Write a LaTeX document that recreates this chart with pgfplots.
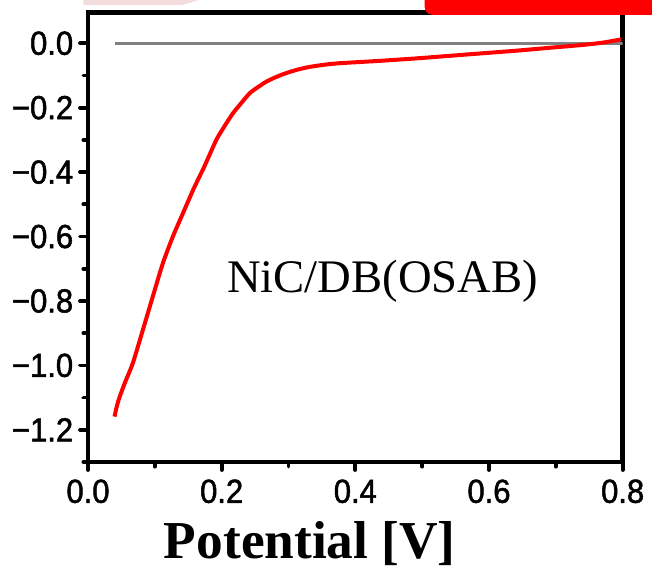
\documentclass[border=0pt]{standalone}
\usepackage{pgfplots}
\pgfplotsset{compat=1.18}
\usepackage{fontspec}
\setmainfont{Liberation Serif}
\newfontfamily\tickfont[FakeStretch=0.93, FakeBold=1.5]{Liberation Sans}
\definecolor{curvegray}{RGB}{128,128,128}
\definecolor{bandpink}{RGB}{242,220,220}

\begin{document}
\begin{tikzpicture}
\begin{axis}[
  name=ax,
  scale only axis,
  width=401pt, height=337pt,
  xmin=0, xmax=0.8,
  ymin=-1.3, ymax=0.095,
  line width=3.6pt,
  axis line style={line width=3.6pt, line cap=round},
  tick align=outside,
  xtick pos=bottom, ytick pos=left,
  major tick length=6pt,
  minor tick length=3.5pt,
  every tick/.style={black, line width=2.8pt, line cap=round},
  xtick={0,0.2,0.4,0.6,0.8},
  xticklabels={0.0,0.2,0.4,0.6,0.8},
  minor xtick={0.1,0.3,0.5,0.7},
  ytick={-1.2,-1.0,-0.8,-0.6,-0.4,-0.2,0},
  yticklabels={−1.2,−1.0,−0.8,−0.6,−0.4,−0.2,0.0},
  minor ytick={-1.3,-1.1,-0.9,-0.7,-0.5,-0.3,-0.1},
  ticklabel style={font=\tickfont\fontsize{25}{25}\selectfont},
  xticklabel style={yshift=-2pt},
  xlabel={Potential [V]},
  xlabel style={font=\bfseries\fontsize{40}{40}\selectfont,
    at={(axis description cs:0.415,0)}, anchor=base, yshift=-72.5pt},
]
% blank (baseline) scan
\addplot[curvegray, line width=2.2pt] coordinates {(0.041,0) (0.8,0)};
% linear sweep
\addplot[red, line width=3pt, line join=round, smooth, tension=0.4] coordinates {
  (0.0397,-1.159) (0.0430,-1.128) (0.0470,-1.100) (0.0550,-1.055)
  (0.0671,-0.993) (0.0821,-0.890)
  (0.0970,-0.786) (0.112,-0.683) (0.127,-0.600) (0.142,-0.528)
  (0.158,-0.452) (0.174,-0.383) (0.192,-0.300) (0.205,-0.255)
  (0.217,-0.217) (0.230,-0.184) (0.242,-0.155) (0.255,-0.135)
  (0.267,-0.119) (0.280,-0.106) (0.292,-0.096) (0.305,-0.087)
  (0.317,-0.080) (0.330,-0.074) (0.342,-0.070) (0.360,-0.065)
  (0.376,-0.062) (0.400,-0.059) (0.441,-0.054) (0.491,-0.047)
  (0.541,-0.039) (0.591,-0.031) (0.641,-0.023) (0.691,-0.014)
  (0.741,-0.005) (0.770,0.002) (0.798,0.012)
};
\node[font=\fontsize{35}{35}\selectfont, anchor=base] at (axis cs:0.4408,-0.775) {NiC/DB(OSAB)};
\end{axis}
% strips along the top edge
\fill[bandpink] ([shift={(-3.4pt,14pt)}]ax.north west) -- ([shift={(-3.4pt,5.8pt)}]ax.north west)
  -- ([shift={(70.9pt,5.8pt)}]ax.north west) -- ([shift={(98pt,14pt)}]ax.north west) -- cycle;
\fill[red, rounded corners=6pt] ([shift={(-148.5pt,20pt)}]ax.north east) -- ([shift={(-148.5pt,-1.6pt)}]ax.north east)
  -- ([shift={(40pt,-1.6pt)}]ax.north east) -- ([shift={(40pt,20pt)}]ax.north east) -- cycle;
\pgfresetboundingbox
\path[use as bounding box] (ax.south west) ++(-66pt,-80.25pt) rectangle ++(489pt,426.75pt);
\end{tikzpicture}
\end{document}
